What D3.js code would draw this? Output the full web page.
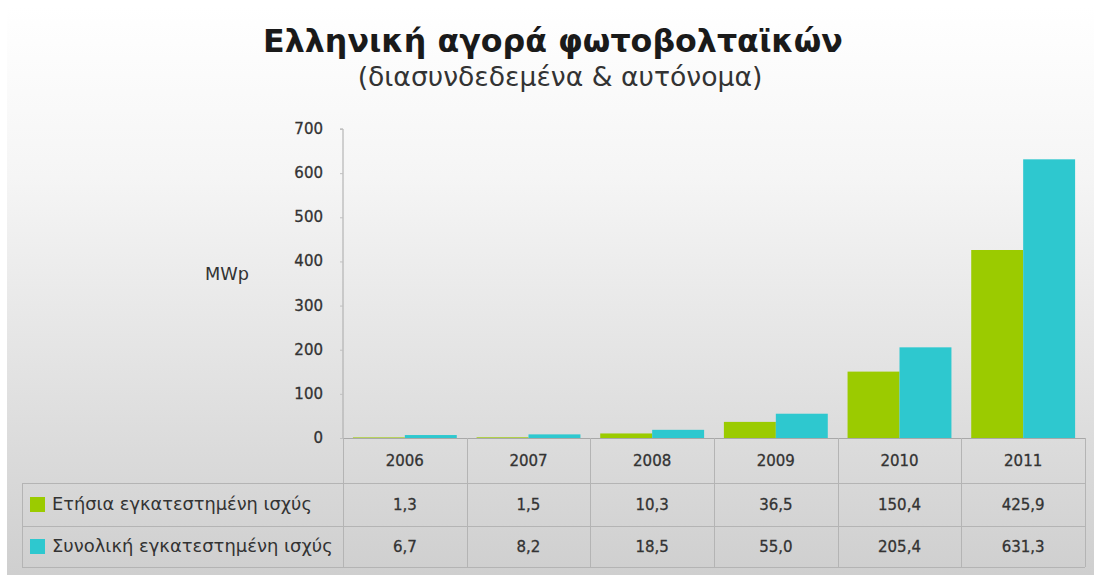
<!DOCTYPE html>
<html>
<head>
<meta charset="utf-8">
<script src="https://cdn.jsdelivr.net/npm/d3@7"></script>
<style>
html,body{margin:0;padding:0;background:#fff;}
svg{display:block;}
text{font-family:"DejaVu Sans","Verdana",sans-serif;}
</style>
</head>
<body>
<svg id="chart" width="1104" height="583"></svg>
<script>
const title = "Ελληνική αγορά φωτοβολταϊκών";
const subtitle = "(διασυνδεδεμένα & αυτόνομα)";
const yLabel = "MWp";
const categories = ["2006","2007","2008","2009","2010","2011"];
const seriesNames = ["Ετήσια εγκατεστημένη ισχύς","Συνολική εγκατεστημένη ισχύς"];
const annual = [1.3, 1.5, 10.3, 36.5, 150.4, 425.9];
const cumulative = [6.7, 8.2, 18.5, 55.0, 205.4, 631.3];
const annualLabels = ["1,3","1,5","10,3","36,5","150,4","425,9"];
const cumulativeLabels = ["6,7","8,2","18,5","55,0","205,4","631,3"];
const yTicks = [0,100,200,300,400,500,600,700];
const colors = ["#9bcb00","#2ec8cf"];

const svg = d3.select("#chart");
const defs = svg.append("defs");
const grad = defs.append("linearGradient").attr("id","bg").attr("x1",0).attr("y1",0).attr("x2",0).attr("y2",1);
grad.append("stop").attr("offset","0%").attr("stop-color","#ffffff");
grad.append("stop").attr("offset","30%").attr("stop-color","#f5f5f5");
grad.append("stop").attr("offset","100%").attr("stop-color","#cfcfcf");

svg.append("rect").attr("x",7).attr("y",7).attr("width",1087).attr("height",568).attr("fill","url(#bg)");

// layout
const left = 343, right = 1085, y0px = 438, y700px = 129;
const rowH = [438, 483, 526, 567];
const legendLeft = 22;

const x = d3.scaleBand().domain(categories).range([left,right]).paddingInner(0.16).paddingOuter(0.08);
const xCol = d3.scaleBand().domain(categories).range([left,right]).padding(0);
const keys = [0,1];
const xs = d3.scaleBand().domain(keys).range([0,x.bandwidth()]).padding(0);
const y = d3.scaleLinear().domain([0,700]).range([y0px,y700px]);

function fitText(sel, target){
  const len = sel.node().getComputedTextLength();
  const fs = parseFloat(sel.attr("font-size"));
  sel.attr("font-size", fs*target/len);
}
const t = svg.append("text").attr("x",553).attr("y",52).attr("text-anchor","middle")
  .attr("font-size",28).attr("font-weight","bold").attr("fill","#1a1a1a").text(title);
fitText(t, 580);
const st = svg.append("text").attr("x",560).attr("y",86).attr("text-anchor","middle")
  .attr("font-size",20).attr("fill","#333").text(subtitle);
fitText(st, 405);

// Y axis
const yAxis = d3.axisLeft(y).tickValues(yTicks).tickSize(3).tickPadding(17).tickFormat(d3.format("d"));
const ga = svg.append("g").attr("transform",`translate(${left},0)`).call(yAxis);
ga.select(".domain").attr("stroke","#a8a8a8").attr("d",`M-3,${y700px}H0V${y0px}`);
ga.selectAll(".tick line").attr("stroke","#c0c0c0");
ga.selectAll(".tick text").attr("font-size",15).attr("fill","#333").attr("font-family","DejaVu Sans")
  .attr("stroke","#333").attr("stroke-width",0.3).attr("dy","0.3em");

const ml = svg.append("text").attr("x",205).attr("y",280).attr("font-size",13).attr("fill","#333").text(yLabel);
fitText(ml, 44);

// Bars
const data = categories.map((c,i)=>({cat:c, vals:[annual[i], cumulative[i]]}));
const groups = svg.append("g").selectAll("g").data(data).join("g")
  .attr("transform",d=>`translate(${x(d.cat)},0)`);
groups.selectAll("rect").data(d=>d.vals.map((v,k)=>({k,v}))).join("rect")
  .attr("x",d=>xs(d.k)).attr("width",xs.bandwidth())
  .attr("y",d=>y(d.v)).attr("height",d=>y(0)-y(d.v))
  .attr("fill",d=>colors[d.k]);

// Table grid
const grid = svg.append("g").attr("stroke","#b4b4b4").attr("stroke-width",1).attr("shape-rendering","crispEdges");
grid.append("line").attr("x1",left).attr("x2",right).attr("y1",rowH[0]+0.5).attr("y2",rowH[0]+0.5).attr("stroke","#a8a8a8");
[rowH[1],rowH[2],rowH[3]].forEach(yy=>{
  grid.append("line").attr("x1",legendLeft).attr("x2",right).attr("y1",yy+0.5).attr("y2",yy+0.5);
});
categories.forEach(c=>{
  grid.append("line").attr("x1",xCol(c)+0.5).attr("x2",xCol(c)+0.5).attr("y1",rowH[0]).attr("y2",rowH[3]);
});
grid.append("line").attr("x1",right+0.5).attr("x2",right+0.5).attr("y1",rowH[0]).attr("y2",rowH[3]);
grid.append("line").attr("x1",legendLeft+0.5).attr("x2",legendLeft+0.5).attr("y1",rowH[1]).attr("y2",rowH[3]);

// Table text
const tt = svg.append("g").attr("font-size",15).attr("fill","#333").attr("stroke","#333").attr("stroke-width",0.3).attr("text-anchor","middle");
categories.forEach((c,i)=>{
  const cx = xCol(c)+xCol.bandwidth()/2;
  tt.append("text").attr("x",cx).attr("y",(rowH[0]+rowH[1])/2+5).text(c);
  tt.append("text").attr("x",cx).attr("y",(rowH[1]+rowH[2])/2+5).text(annualLabels[i]);
  tt.append("text").attr("x",cx).attr("y",(rowH[2]+rowH[3])/2+5).text(cumulativeLabels[i]);
});

// Legend
seriesNames.forEach((n,k)=>{
  const rt = rowH[k+1], rb = rowH[k+2];
  const cy = (rt+rb)/2;
  svg.append("rect").attr("x",30).attr("y",cy-7.5).attr("width",15).attr("height",15).attr("fill",colors[k]);
  const lt = svg.append("text").attr("x",52).attr("y",cy+5).attr("font-size",14).attr("fill","#333").text(n);
  fitText(lt, k===0?260:281);
});
</script>
</body>
</html>
